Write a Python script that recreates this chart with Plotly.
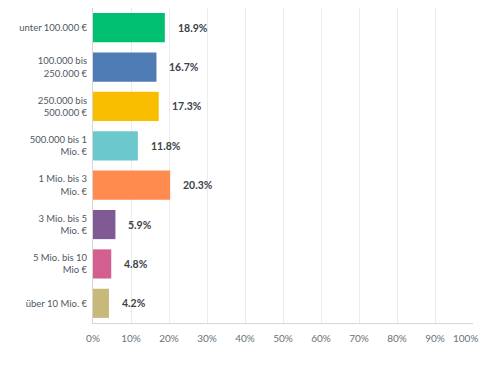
import plotly.graph_objects as go

categories = ["unter 100.000 €", "100.000 bis<br>250.000 €", "250.000 bis<br>500.000 €",
              "500.000 bis 1<br>Mio. €", "1 Mio. bis 3<br>Mio. €", "3 Mio. bis 5<br>Mio. €",
              "5 Mio. bis 10<br>Mio €", "über 10 Mio. €"]
values = [18.9, 16.7, 17.3, 11.8, 20.3, 5.9, 4.8, 4.2]
colors = ["#00BF6F", "#507CB6", "#F9BE00", "#6BC8CD", "#FF8B4F", "#7F5A94", "#D25F90", "#C8B87A"]
tick_vals = [0, 10, 20, 30, 40, 50, 60, 70, 80, 90, 100]
tick_text = [f"{v}%" for v in tick_vals]

fig = go.Figure(go.Bar(
    x=values, y=categories, orientation="h",
    marker=dict(color=colors, line=dict(width=0)),
    hoverinfo="skip",
))

for v, c in zip(values, categories):
    fig.add_annotation(x=v, y=c, text=f"<b>{v:.1f}%</b>", showarrow=False,
                       xanchor="left", xshift=11,
                       font=dict(family="Lato, sans-serif", size=10.5, color="#3b4249"))

# last tick label drawn as annotation so it can sit inside the page edge
fig.add_annotation(x=tick_vals[-1], xref="x", y=0, yref="paper", text=tick_text[-1],
                   showarrow=False, xanchor="right", yanchor="top", xshift=7, yshift=-7,
                   font=dict(family="Lato, sans-serif", size=10, color="#6b7177"))

fig.update_layout(
    width=481, height=381,
    margin=dict(l=93, r=8, t=8, b=58),
    paper_bgcolor="white", plot_bgcolor="white",
    bargap=0.26,
    showlegend=False,
    font=dict(family="Lato, sans-serif", size=10, color="#6b7177"),
)
fig.update_xaxes(range=[0, 100.001], tickvals=tick_vals[:-1], ticktext=tick_text[:-1],
                 automargin=False,
                 showgrid=True, gridcolor="#ececec", gridwidth=1,
                 zeroline=False, showline=True, linecolor="#d6d6d6", linewidth=1,
                 ticks="", ticklabelstandoff=6, tickfont=dict(size=10, color="#6b7177"))
fig.update_yaxes(autorange="reversed", showgrid=False, showline=True, linecolor="#d6d6d6",
                 linewidth=1, ticks="", ticklabelstandoff=3, automargin=False,
                 tickfont=dict(size=9.5, color="#50585f"))

fig.write_html("out.html", config={"displayModeBar": False},
               post_script="document.body.style.margin='0';document.body.style.overflow='hidden';")
